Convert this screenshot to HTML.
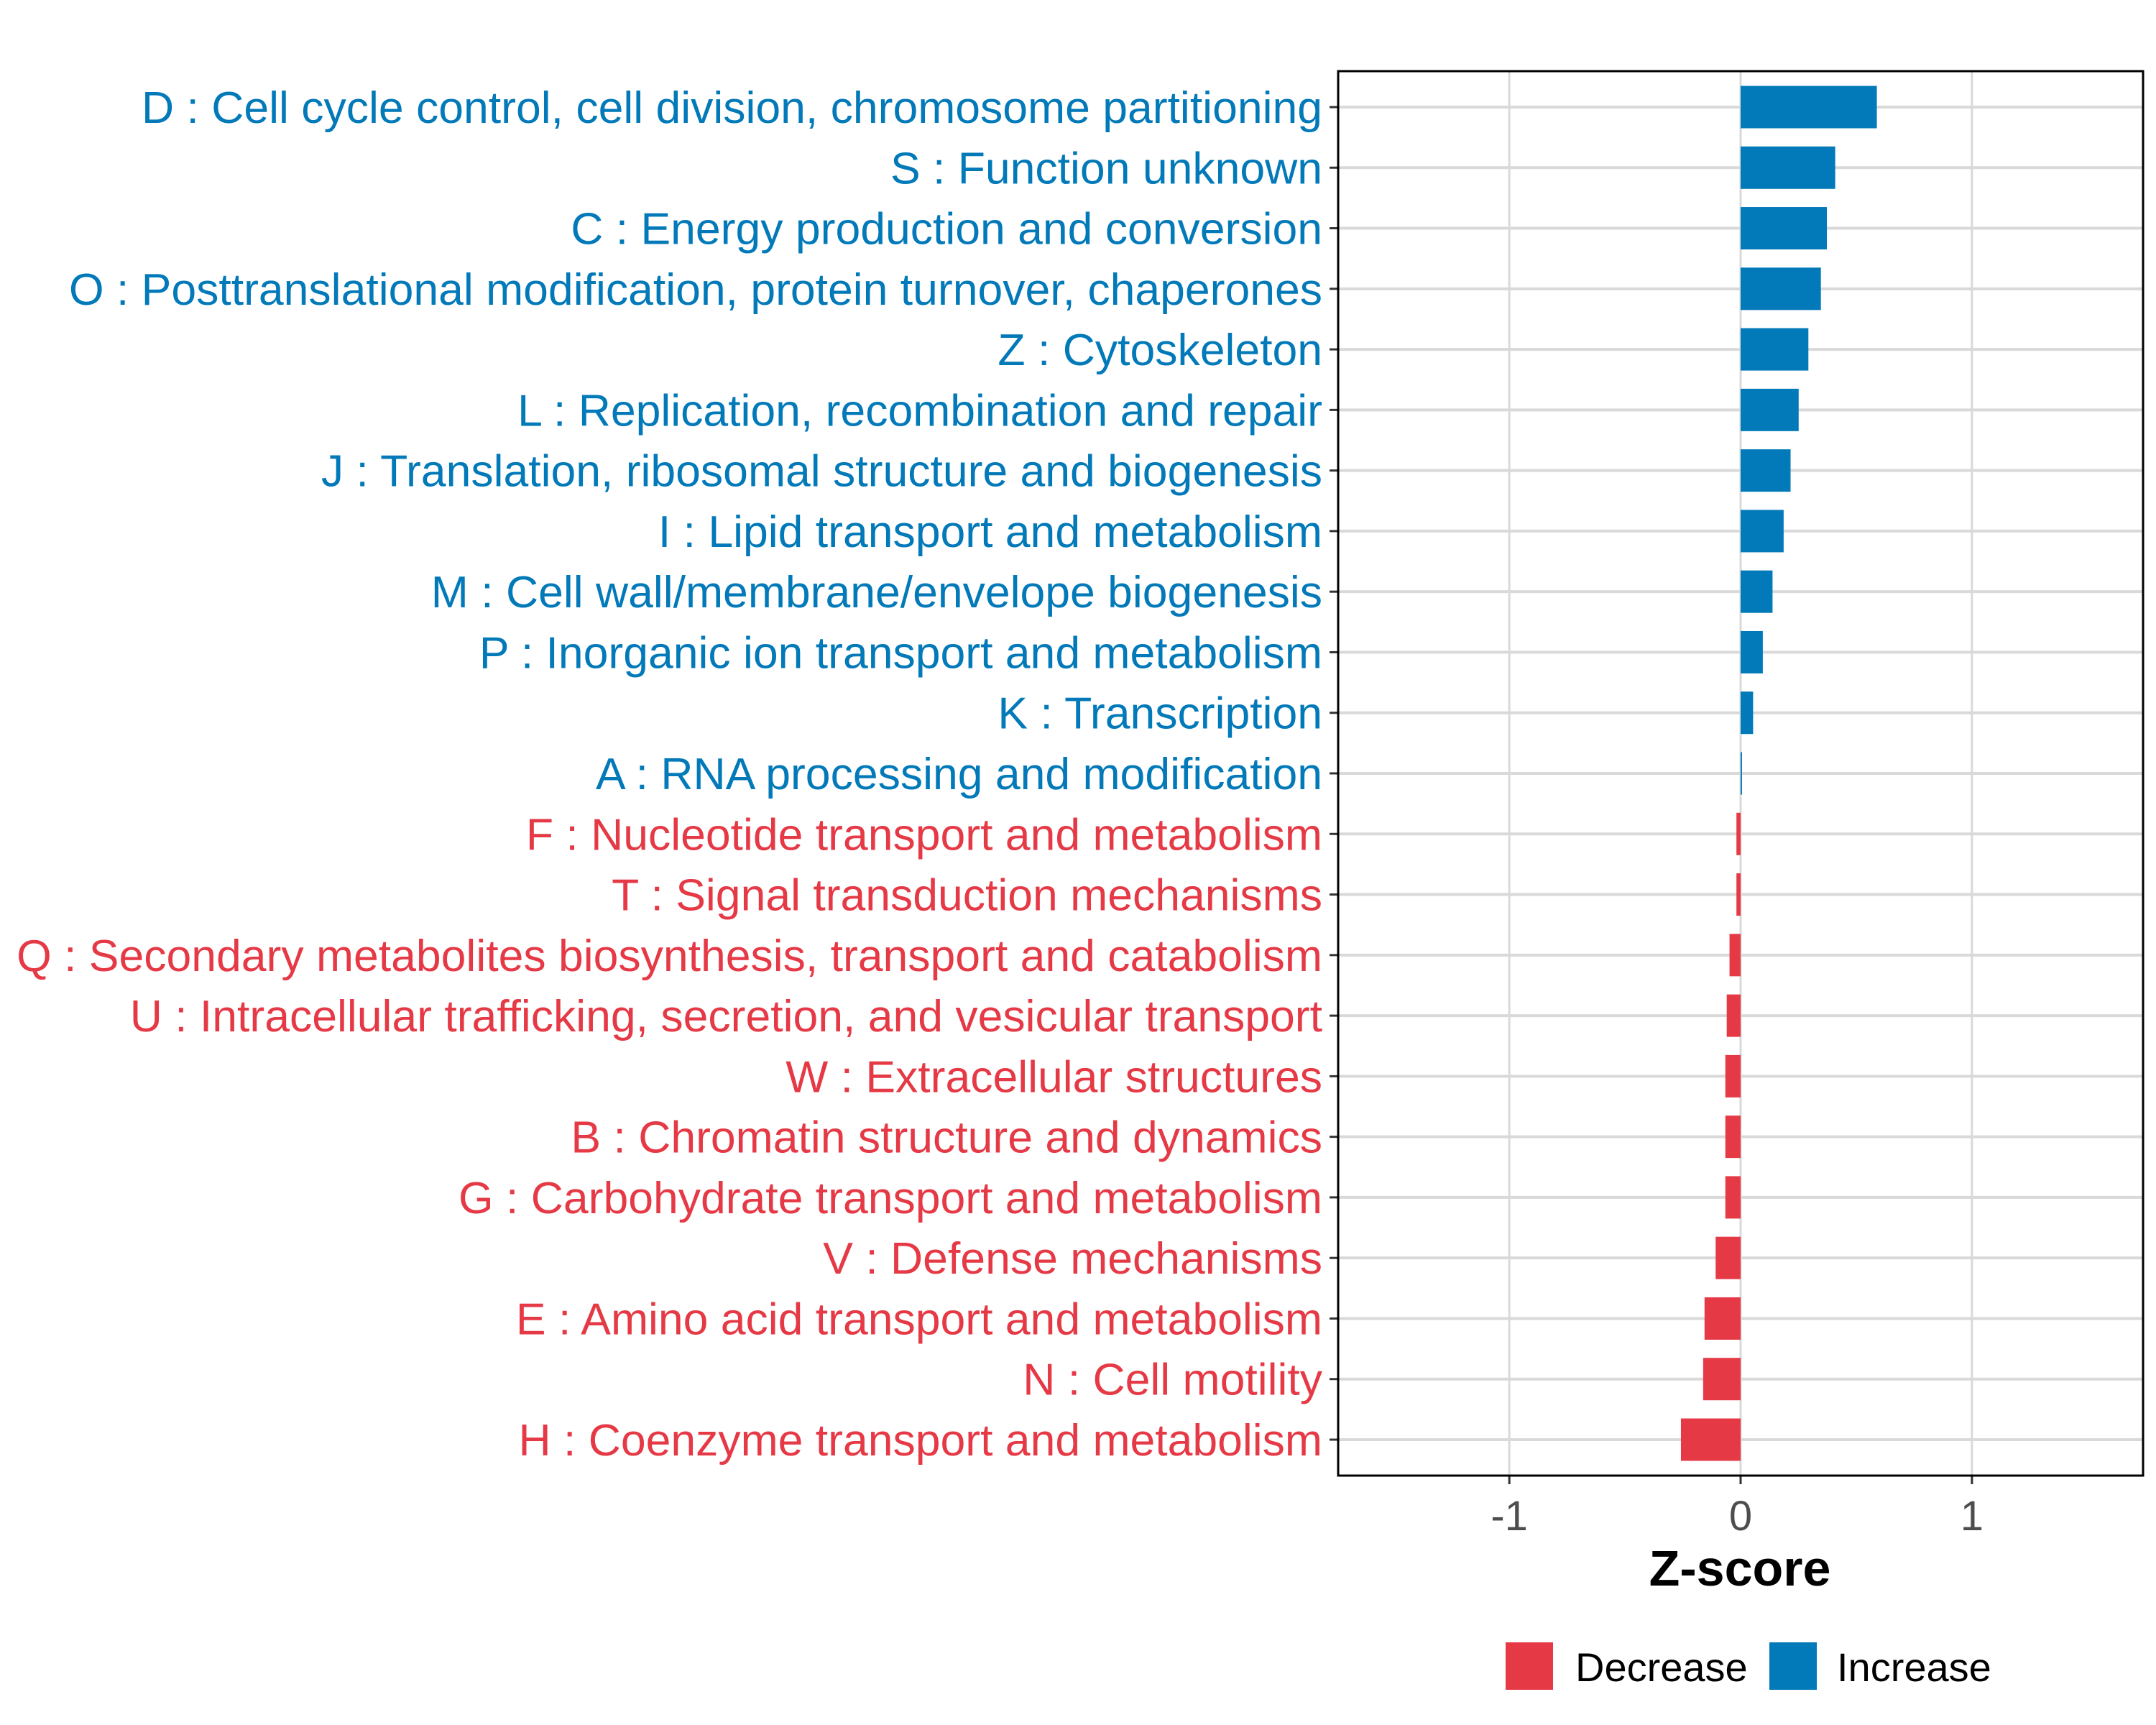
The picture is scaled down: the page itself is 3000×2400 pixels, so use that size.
<!DOCTYPE html>
<html><head><meta charset="utf-8"><style>
body{margin:0;background:#fff;}
svg{display:block;font-family:"Liberation Sans",Arial,sans-serif;}
</style></head><body>
<svg id="chart" width="3000" height="2400" viewBox="0 0 3000 2400" xmlns="http://www.w3.org/2000/svg">
<rect width="3000" height="2400" fill="#fff"/>
<g id="grid"></g><g id="bars"></g><g id="axes"></g><g id="labels"></g>
<text x="2421" y="2206" font-size="70" font-weight="bold" text-anchor="middle" fill="#000">Z-score</text>
<g>
<rect x="2095" y="2285" width="66" height="66" fill="#E63946"/>
<text x="2192" y="2339" font-size="56" fill="#000">Decrease</text>
<rect x="2462" y="2285" width="66" height="66" fill="#0279B8"/>
<text x="2556" y="2339" font-size="56" fill="#000">Increase</text>
</g>
</svg>
<script>
const categories = ["D : Cell cycle control, cell division, chromosome partitioning","S : Function unknown","C : Energy production and conversion","O : Posttranslational modification, protein turnover, chaperones","Z : Cytoskeleton","L : Replication, recombination and repair","J : Translation, ribosomal structure and biogenesis","I : Lipid transport and metabolism","M : Cell wall/membrane/envelope biogenesis","P : Inorganic ion transport and metabolism","K : Transcription","A : RNA processing and modification","F : Nucleotide transport and metabolism","T : Signal transduction mechanisms","Q : Secondary metabolites biosynthesis, transport and catabolism","U : Intracellular trafficking, secretion, and vesicular transport","W : Extracellular structures","B : Chromatin structure and dynamics","G : Carbohydrate transport and metabolism","V : Defense mechanisms","E : Amino acid transport and metabolism","N : Cell motility","H : Coenzyme transport and metabolism"];
const zscores = [0.589,0.409,0.373,0.347,0.293,0.251,0.216,0.186,0.138,0.096,0.054,0.006,-0.018,-0.018,-0.048,-0.06,-0.066,-0.066,-0.066,-0.108,-0.156,-0.162,-0.258];
const xTicks = [-1,0,1];
const xTickLabels = ["-1","0","1"];
const NS="http://www.w3.org/2000/svg";
const PL=1862,PR=2982,PT=99,PB=2053;
const XMIN=-1.74,XMAX=1.74;
function xs(v){return PL+(v-XMIN)/(XMAX-XMIN)*(PR-PL);}
const step=(2003-149)/(categories.length-1);
function ys(i){return 149+i*step;}
function mk(tag,attrs,parent){const e=document.createElementNS(NS,tag);for(const k in attrs)e.setAttribute(k,attrs[k]);parent.appendChild(e);return e;}
const grid=document.getElementById('grid'),bars=document.getElementById('bars'),axes=document.getElementById('axes'),labels=document.getElementById('labels');
xTicks.forEach((t,i)=>{
  const l=mk('line',{x1:xs(t),x2:xs(t),y1:PT,y2:PB,stroke:'#d9d9d9','stroke-width':3},grid);
  
  
  const tk=mk('line',{x1:xs(t),x2:xs(t),y1:PB,y2:PB+12,stroke:'#333','stroke-width':3},axes);
  
  
  const tx=mk('text',{x:xs(t),y:2129,'font-size':58,'text-anchor':'middle',fill:'#4d4d4d'},axes);
  tx.textContent=xTickLabels[i];
  
  
});
categories.forEach((c,i)=>{
  const y=ys(i),v=zscores[i],col=v>=0?'#0279B8':'#E63946';
  const g=mk('line',{x1:PL,x2:PR,y1:y,y2:y,stroke:'#d9d9d9','stroke-width':4},grid);
  
  
  const x0=xs(0),x1=xs(v);
  const r=mk('rect',{x:Math.min(x0,x1),y:y-step*0.35,width:Math.max(Math.abs(x1-x0),1),height:step*0.7,fill:col},bars);
  
  
  const tk=mk('line',{x1:PL-12,x2:PL,y1:y,y2:y,stroke:'#333','stroke-width':3},axes);
  
  
  const t=mk('text',{x:1840,y:y+22,'font-size':62.5,'text-anchor':'end',fill:col},labels);
  t.textContent=c;
  
  
});
const fr=mk('rect',{x:PL,y:PT,width:PR-PL,height:PB-PT,fill:'none',stroke:'#000','stroke-width':3},axes);


</script>
</body></html>
